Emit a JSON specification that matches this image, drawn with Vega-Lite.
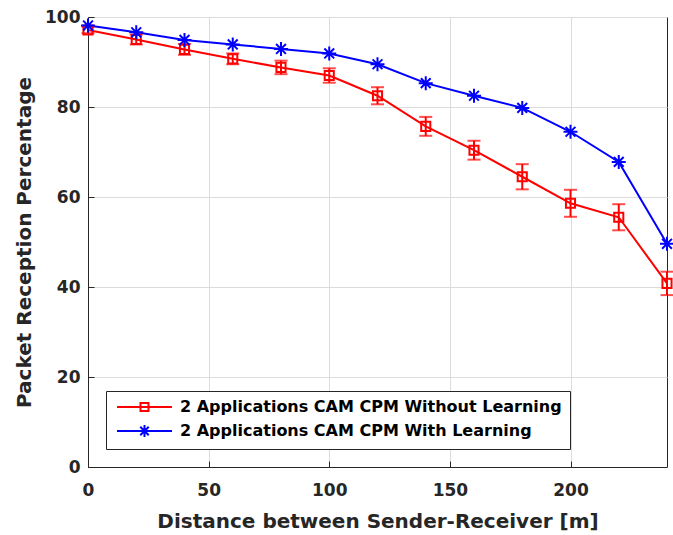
{
  "$schema": "https://vega.github.io/schema/vega-lite/v6.json",
  "autosize": {"type": "none"},
  "padding": {"left": 88, "top": 17, "right": 6, "bottom": 68},
  "width": 579,
  "height": 450,
  "background": "white",
  "config": {
    "view": {"stroke": "#262626", "strokeWidth": 1},
    "font": "DejaVu Sans",
    "axis": {
      "labelFont": "DejaVu Sans", "labelFontWeight": "bold", "labelFontSize": 17, "labelColor": "#262626",
      "titleFont": "DejaVu Sans", "titleFontWeight": "bold", "titleFontSize": 20, "titleColor": "#262626",
      "domainColor": "#262626", "tickColor": "#262626", "gridColor": "#dcdcdc", "gridWidth": 1
    }
  },
  "data": {
    "values": [
      {"series": "2 Applications CAM CPM Without Learning", "d": 0, "p": 97.1, "lo": 96.4, "hi": 97.8},
      {"series": "2 Applications CAM CPM Without Learning", "d": 20, "p": 95.0, "lo": 93.9, "hi": 96.1},
      {"series": "2 Applications CAM CPM Without Learning", "d": 40, "p": 92.8, "lo": 91.6, "hi": 94.0},
      {"series": "2 Applications CAM CPM Without Learning", "d": 60, "p": 90.7, "lo": 89.5, "hi": 91.9},
      {"series": "2 Applications CAM CPM Without Learning", "d": 80, "p": 88.8, "lo": 87.3, "hi": 90.3},
      {"series": "2 Applications CAM CPM Without Learning", "d": 100, "p": 87.0, "lo": 85.4, "hi": 88.6},
      {"series": "2 Applications CAM CPM Without Learning", "d": 120, "p": 82.5, "lo": 80.6, "hi": 84.4},
      {"series": "2 Applications CAM CPM Without Learning", "d": 140, "p": 75.7, "lo": 73.6, "hi": 77.8},
      {"series": "2 Applications CAM CPM Without Learning", "d": 160, "p": 70.4, "lo": 68.3, "hi": 72.5},
      {"series": "2 Applications CAM CPM Without Learning", "d": 180, "p": 64.5, "lo": 61.7, "hi": 67.3},
      {"series": "2 Applications CAM CPM Without Learning", "d": 200, "p": 58.6, "lo": 55.6, "hi": 61.6},
      {"series": "2 Applications CAM CPM Without Learning", "d": 220, "p": 55.5, "lo": 52.6, "hi": 58.4},
      {"series": "2 Applications CAM CPM Without Learning", "d": 240, "p": 40.8, "lo": 38.2, "hi": 43.4},
      {"series": "2 Applications CAM CPM With Learning", "d": 0, "p": 98.1},
      {"series": "2 Applications CAM CPM With Learning", "d": 20, "p": 96.6},
      {"series": "2 Applications CAM CPM With Learning", "d": 40, "p": 94.9},
      {"series": "2 Applications CAM CPM With Learning", "d": 60, "p": 93.9},
      {"series": "2 Applications CAM CPM With Learning", "d": 80, "p": 92.9},
      {"series": "2 Applications CAM CPM With Learning", "d": 100, "p": 91.9},
      {"series": "2 Applications CAM CPM With Learning", "d": 120, "p": 89.5},
      {"series": "2 Applications CAM CPM With Learning", "d": 140, "p": 85.3},
      {"series": "2 Applications CAM CPM With Learning", "d": 160, "p": 82.5},
      {"series": "2 Applications CAM CPM With Learning", "d": 180, "p": 79.8},
      {"series": "2 Applications CAM CPM With Learning", "d": 200, "p": 74.5},
      {"series": "2 Applications CAM CPM With Learning", "d": 220, "p": 67.8},
      {"series": "2 Applications CAM CPM With Learning", "d": 240, "p": 49.6}
    ]
  },
  "layer": [
    {
      "mark": {"type": "line", "strokeWidth": 2, "clip": false},
      "encoding": {
        "x": {"field": "d", "type": "quantitative", "scale": {"domain": [0, 240], "nice": false, "zero": false},
              "axis": {"values": [0, 50, 100, 150, 200], "grid": true, "tickSize": -6, "labelPadding": 21, "title": "Distance between Sender-Receiver [m]", "titlePadding": 13, "labelFlush": false}},
        "y": {"field": "p", "type": "quantitative", "scale": {"domain": [0, 100], "nice": false},
              "axis": {"values": [0, 20, 40, 60, 80, 100], "grid": true, "tickSize": -6, "labelPadding": 14, "title": "Packet Reception Percentage", "titlePadding": 10, "labelFlush": false}},
        "color": {"field": "series", "type": "nominal",
                  "scale": {"domain": ["2 Applications CAM CPM Without Learning", "2 Applications CAM CPM With Learning"], "range": ["#ff0000", "#0000ff"]},
                  "legend": {
                    "title": null, "orient": "bottom-left", "offset": 18,
                    "labelFont": "DejaVu Sans", "labelFontWeight": "bold", "labelFontSize": 16, "labelColor": "#000000", "labelLimit": 0,
                    "symbolSize": 100, "symbolStrokeWidth": 2, "labelOffset": 50, "rowPadding": 6,
                    "padding": 8, "strokeColor": "#262626", "fillColor": "white", "cornerRadius": 0,
                    "encode": {"symbols": {"update": {
                      "shape": {"signal": "datum.value == '2 Applications CAM CPM Without Learning' ? 'M-1,0H10M3.7,-0.8H5.3V0.8H3.7Z' : 'M-1,0H10M4.5,-1.2V1.2M3.65,-0.85L5.35,0.85M3.65,0.85L5.35,-0.85'"},
                      "fill": {"value": "transparent"},
                      "strokeWidth": {"value": 2}
                    }}}
                  }}
      }
    },
    {
      "transform": [{"filter": "datum.lo != null"}],
      "mark": {"type": "errorbar", "ticks": {"size": 13}, "thickness": 2, "color": "#ff0000", "clip": false},
      "encoding": {
        "x": {"field": "d", "type": "quantitative", "title": "Distance between Sender-Receiver [m]"},
        "y": {"field": "lo", "type": "quantitative", "title": "Packet Reception Percentage"},
        "y2": {"field": "hi"}
      }
    },
    {
      "transform": [{"filter": "datum.series == '2 Applications CAM CPM Without Learning'"}],
      "mark": {"type": "point", "filled": false, "strokeWidth": 2, "size": 169, "opacity": 1, "clip": false, "color": "#ff0000", "shape": "M-0.7,-0.7H0.7V0.7H-0.7Z"},
      "encoding": {
        "x": {"field": "d", "type": "quantitative", "title": "Distance between Sender-Receiver [m]"},
        "y": {"field": "p", "type": "quantitative", "title": "Packet Reception Percentage"}
      }
    },
    {
      "transform": [{"filter": "datum.series == '2 Applications CAM CPM With Learning'"}],
      "mark": {"type": "point", "filled": false, "strokeWidth": 2, "size": 196, "opacity": 1, "clip": false, "color": "#0000ff", "shape": "M-1,0H1M0,-1V1M-0.7,-0.7L0.7,0.7M-0.7,0.7L0.7,-0.7"},
      "encoding": {
        "x": {"field": "d", "type": "quantitative", "title": "Distance between Sender-Receiver [m]"},
        "y": {"field": "p", "type": "quantitative", "title": "Packet Reception Percentage"}
      }
    }
  ]
}
